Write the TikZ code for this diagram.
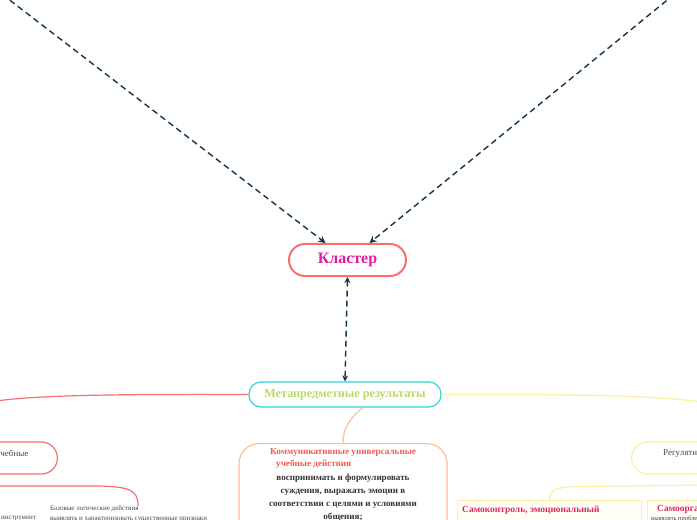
\documentclass[tikz,border=0pt]{standalone}
\usepackage{fontspec}
\setmainfont{Liberation Serif}
\usetikzlibrary{arrows.meta}
\definecolor{navy}{HTML}{12364A}
\definecolor{salmon}{HTML}{F6706E}
\definecolor{klcol}{HTML}{DF1AA5}
\definecolor{cyanb}{HTML}{33D2DE}
\definecolor{lgreen}{HTML}{B8DA6A}
\definecolor{peach}{HTML}{FFBE98}
\definecolor{ttlred}{HTML}{F15A55}
\definecolor{lyel}{HTML}{FAF0A0}
\definecolor{cream}{HTML}{FFFEF4}
\definecolor{pinkred}{HTML}{E5245C}
\definecolor{txtgray}{HTML}{4A4A4A}
\tikzset{
  dashlink/.style={navy,line width=1.4bp,dash pattern=on 6bp off 4bp},
  mapbox/.style={fill=white,rounded corners=16bp,inner sep=0pt},
  branch/.style={line width=1.2bp},
  smalltxt/.style={txtgray,font=\fontsize{7}{10}\selectfont,inner sep=0pt}
}
\begin{document}
\begin{tikzpicture}[x=1bp,y=-1bp]
\useasboundingbox (0,0) rectangle (697,520);
\clip (0,0) rectangle (697,520);
\fill[white] (0,0) rectangle (697,520);

% top of the map
\node[mapbox,draw=salmon,line width=2bp,minimum width=117bp,minimum height=32bp,text=klcol,font=\bfseries\fontsize{16}{18}\selectfont] (klaster) at (347.5,260) {Кластер};
\coordinate (topl) at (-6,-12);
\coordinate (topr) at (682,-12);
\draw[dashlink,-{Stealth[length=7bp,width=7bp]}] (topl) -- ([xshift=-22bp]klaster.north);
\draw[dashlink,-{Stealth[length=7bp,width=7bp]}] (topr) -- ([xshift=22bp]klaster.north);

\node[mapbox,draw=cyanb,line width=1.2bp,rounded corners=12bp,minimum width=192bp,minimum height=25bp,text=lgreen,font=\bfseries\fontsize{12.2}{14}\selectfont] (meta) at (345,394.5) {Метапредметные результаты};
\draw[dashlink,{Stealth[length=6bp,width=6bp]}-{Stealth[length=6bp,width=6bp]}] (klaster.south) -- (meta.north);

% branches
\coordinate (lend) at (-10,402);
\coordinate (rend) at (707,403);
\draw[branch,salmon] (meta.west) .. controls (120,394) and (30,395) .. (lend);
\draw[branch,lyel] (meta.east) .. controls (580,394) and (670,396) .. (rend);

% left branch
\node[mapbox,draw=salmon,line width=1.2bp,minimum width=120bp,minimum height=32bp,anchor=east] (cogn) at (58,458) {};
\node[anchor=east,txtgray,font=\fontsize{9}{11}\selectfont,inner sep=0pt] (cognlbl) at (28.5,454) {учебные};
\node[smalltxt,align=left,anchor=north west] (bazovye) at (50,506) {Базовые логические действия\\выявлять и характеризовать существенные признаки};
\node[smalltxt,anchor=west] (instr) at (1,519) {инструмент};
\coordinate (lfork) at (-10,486);
\draw[branch,salmon] (lfork) -- (100,486) .. controls (130,487) and (138,490) .. (bazovye.north -| 138,0);

% middle branch
\node[mapbox,draw=peach,line width=1.2bp,rounded corners=20bp,minimum width=208bp,minimum height=160bp,anchor=north] (comm) at (343,443) {};
\draw[branch,peach] ([xshift=18bp]meta.south) .. controls (350,418) and (343,428) .. (comm.north);
\node[ttlred,align=left,anchor=north west,inner sep=0pt,font=\bfseries\fontsize{9.2}{12}\selectfont] (commttl) at (270,448) {Коммуникативные универсальные\\\hspace*{6bp}учебные действия};
\node[align=center,anchor=north,inner sep=0pt,text=black!80,font=\bfseries\fontsize{9.1}{13}\selectfont] (commtxt) at (343,474.5) {воспринимать и формулировать\\суждения, выражать эмоции в\\соответствии с целями и условиями\\общения;};

% right branch
\node[mapbox,draw=lyel,line width=1.2bp,minimum width=120bp,minimum height=32bp,anchor=west] (regul) at (631,458) {};
\node[anchor=west,txtgray,font=\fontsize{9}{11}\selectfont,inner sep=0pt] (regullbl) at (663,454) {Регулятивные};
\node[draw=lyel,fill=cream,line width=1.2bp,minimum width=184bp,minimum height=40bp,anchor=north west,inner sep=0pt] (selfctl) at (457,500) {};
\node[anchor=west,pinkred,font=\bfseries\fontsize{9.5}{11}\selectfont,inner sep=0pt] (selfctllbl) at (462,510) {Самоконтроль, эмоциональный};
\node[draw=lyel,fill=cream,line width=1.2bp,minimum width=120bp,minimum height=40bp,anchor=north west,inner sep=0pt] (selforg) at (647,500) {};
\node[anchor=west,pinkred,font=\bfseries\fontsize{9.5}{11}\selectfont,inner sep=0pt] (selforglbl) at (657,509) {Самоорганизация};
\node[smalltxt,anchor=west,font=\fontsize{6.5}{8}\selectfont] (selforgtxt) at (651,518.5) {выявлять проблемы};
\coordinate (rfork) at (707,485);
\draw[branch,lyel] (selfctl.north) .. controls (549,490) and (555,487) .. (580,486.5) -- (rfork);
\end{tikzpicture}
\end{document}
